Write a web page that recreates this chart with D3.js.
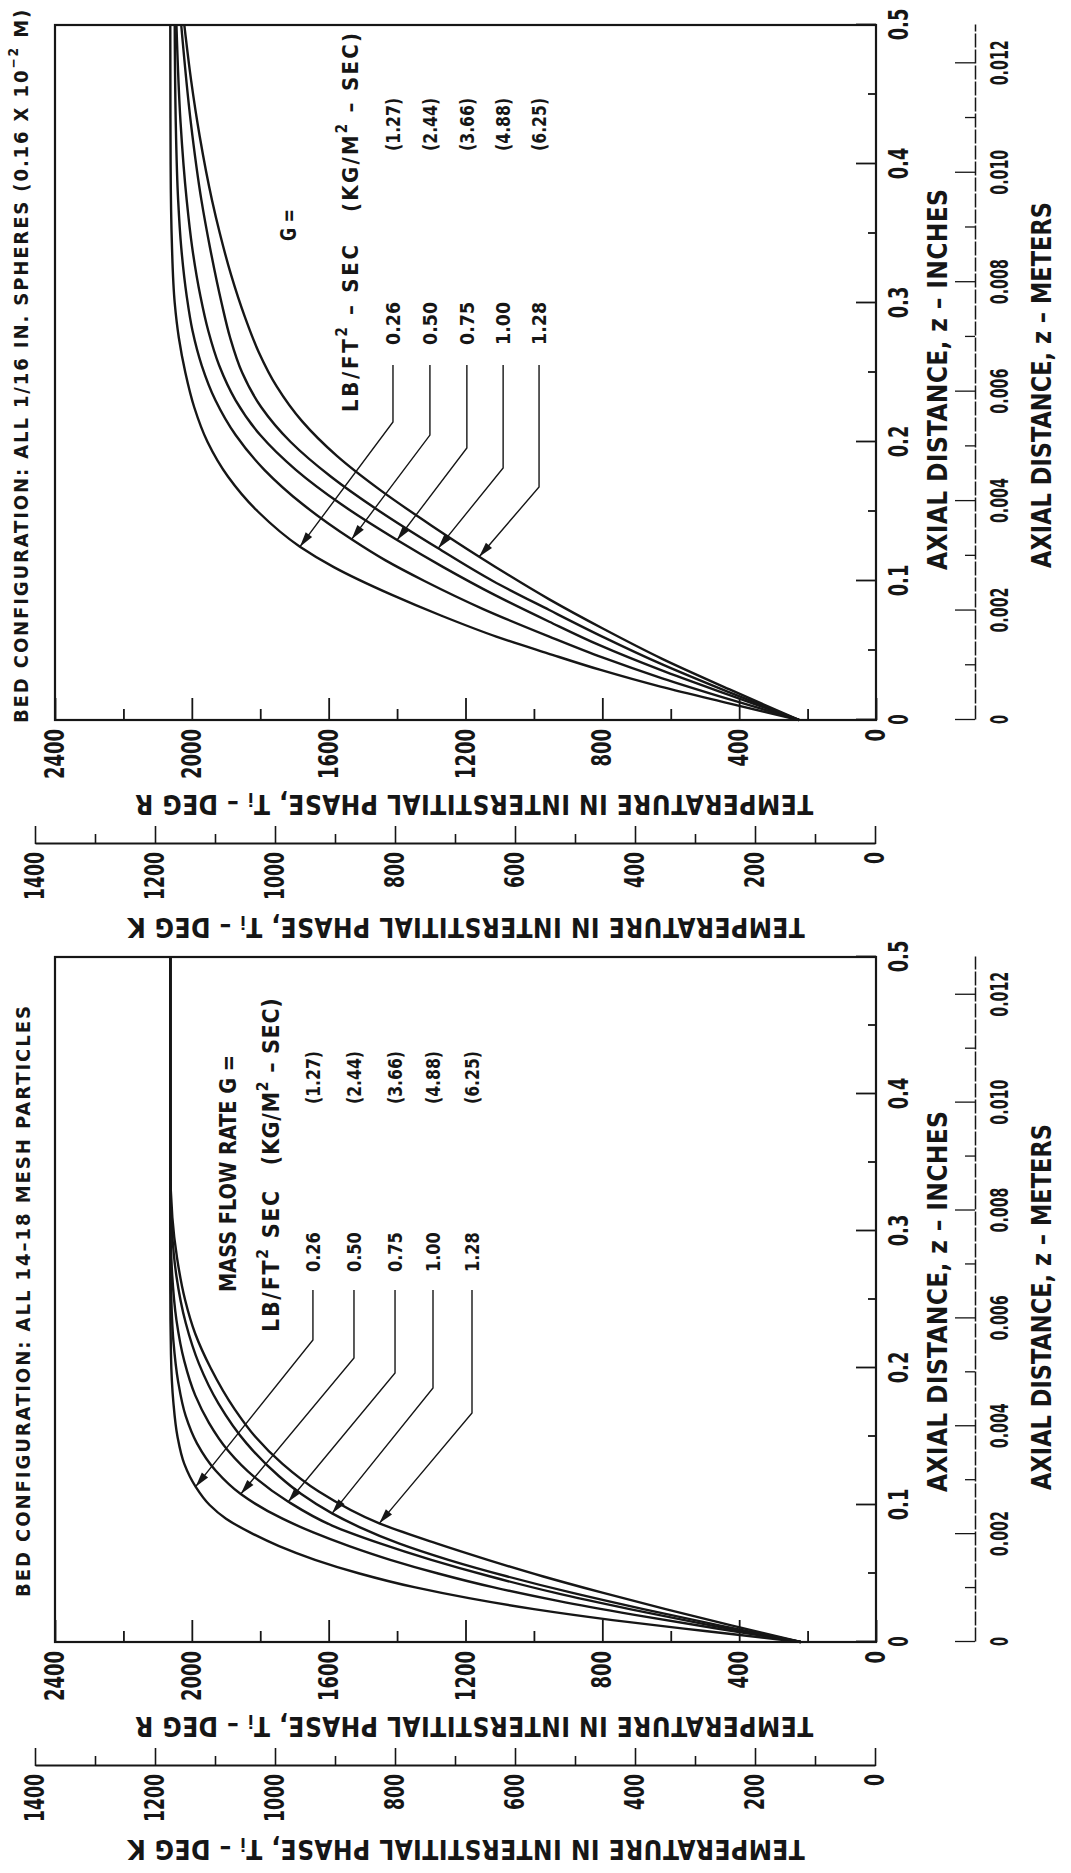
<!DOCTYPE html>
<html>
<head>
<meta charset="utf-8">
<script src="https://cdn.jsdelivr.net/npm/d3@7"></script>
<style>
  html, body { margin: 0; padding: 0; background: #fff; }
  svg { display: block; }
  text { font-family: "Liberation Sans Narrow", "DejaVu Sans Condensed", "Liberation Sans", sans-serif; fill: #161616; font-weight: bold; }
</style>
</head>
<body>
<svg id="fig" width="1071" height="1873"></svg>
<script>
// ---------------------------------------------------------------
// Interstitial gas temperature vs. axial distance in a packed bed.
// Page is laid out in landscape and turned a quarter turn.
// ---------------------------------------------------------------

// Axis ticks
const inchTicks         = [0, 0.1, 0.2, 0.3, 0.4, 0.5];
const inchMinorTicks    = [0.05, 0.15, 0.25, 0.35, 0.45];
const meterTicks        = [0, 0.002, 0.004, 0.006, 0.008, 0.010, 0.012];
const meterMinorTicks   = [0.001, 0.003, 0.005, 0.007, 0.009, 0.011];
const rankineTicks      = [0, 400, 800, 1200, 1600, 2000, 2400];
const rankineMinorTicks = [200, 600, 1000, 1400, 1800, 2200];
const kelvinTicks       = [0, 200, 400, 600, 800, 1000, 1200, 1400];
const kelvinMinorTicks  = [100, 300, 500, 700, 900, 1100, 1300];

// Mass flow rates
const flowLb = ["0.26", "0.50", "0.75", "1.00", "1.28"];
const flowKg = ["(1.27)", "(2.44)", "(3.66)", "(4.88)", "(6.25)"];

// 14-18 mesh particles: [z (in), T (deg R)]
const meshG026 = [[0,220],[0.008,500],[0.016,770],[0.024,1000],[0.032,1190],[0.04,1350],[0.05,1510],[0.06,1640],[0.07,1745],[0.08,1830],[0.09,1900],[0.1,1948],[0.1134,1989],[0.13,2022],[0.15,2042],[0.175,2054],[0.21,2061],[0.26,2063],[0.5,2063]];
const meshG050 = [[0,220],[0.01,470],[0.02,710],[0.03,930],[0.04,1120],[0.05,1280],[0.06,1420],[0.07,1540],[0.08,1645],[0.09,1735],[0.108,1857],[0.125,1930],[0.145,1985],[0.165,2018],[0.19,2040],[0.22,2054],[0.26,2061],[0.3,2063],[0.5,2063]];
const meshG075 = [[0,220],[0.012,480],[0.024,720],[0.036,940],[0.048,1130],[0.06,1300],[0.072,1450],[0.085,1590],[0.1024,1718],[0.12,1815],[0.14,1895],[0.16,1950],[0.18,1990],[0.205,2022],[0.235,2045],[0.27,2058],[0.31,2063],[0.5,2063]];
const meshG100 = [[0,220],[0.012,455],[0.024,680],[0.036,890],[0.048,1080],[0.06,1250],[0.072,1395],[0.0839,1510],[0.0939,1590],[0.108,1680],[0.121,1745],[0.145,1840],[0.174,1922],[0.203,1979],[0.233,2018],[0.267,2045],[0.3,2058],[0.34,2063],[0.5,2063]];
const meshG128 = [[0,220],[0.012,420],[0.024,615],[0.036,800],[0.048,975],[0.06,1135],[0.072,1285],[0.0866,1452],[0.11,1630],[0.13,1735],[0.15,1815],[0.17,1875],[0.2,1945],[0.225,1990],[0.25,2020],[0.28,2043],[0.31,2057],[0.35,2063],[0.5,2063]];

// 1/16 in. spheres: [z (in), T (deg R)]
const sphereG026 = [[0,225],[0.012,430],[0.024,630],[0.036,805],[0.048,960],[0.06,1110],[0.075,1270],[0.09,1415],[0.11,1585],[0.1247,1684],[0.15,1807],[0.175,1894],[0.2,1954],[0.225,1993],[0.25,2019],[0.275,2038],[0.3,2050],[0.34,2058],[0.4,2062],[0.5,2063]];
const sphereG050 = [[0,225],[0.015,430],[0.03,625],[0.045,800],[0.06,955],[0.08,1150],[0.10,1320],[0.115,1435],[0.130,1533],[0.155,1675],[0.18,1788],[0.205,1872],[0.23,1931],[0.255,1971],[0.28,1998],[0.305,2015],[0.34,2031],[0.374,2040],[0.43,2047],[0.5,2050]];
const sphereG075 = [[0,225],[0.018,430],[0.036,630],[0.054,810],[0.0707,955],[0.09,1115],[0.11,1265],[0.1295,1400],[0.155,1562],[0.18,1696],[0.205,1800],[0.23,1872],[0.255,1920],[0.28,1952],[0.305,1975],[0.34,1999],[0.374,2015],[0.43,2033],[0.5,2045]];
const sphereG100 = [[0,225],[0.02,430],[0.04,625],[0.06,800],[0.0791,955],[0.1,1120],[0.1235,1280],[0.15,1450],[0.175,1593],[0.2,1711],[0.225,1797],[0.25,1853],[0.275,1888],[0.3,1913],[0.34,1947],[0.374,1972],[0.43,2003],[0.5,2031]];
const sphereG128 = [[0,225],[0.022,428],[0.044,625],[0.066,800],[0.0868,955],[0.1175,1160],[0.14,1300],[0.165,1447],[0.19,1576],[0.215,1678],[0.24,1752],[0.265,1805],[0.29,1845],[0.32,1885],[0.35,1918],[0.374,1941],[0.42,1977],[0.46,2002],[0.5,2022]];

// ---------------------------------------------------------------
const INK = "#161616";
const PAGE_LONG = 1873;
const svg = d3.select("#fig");
const page = svg.append("g").attr("transform", `translate(0,${PAGE_LONG}) rotate(-90)`);

// temperature scales are shared by both panels (vertical in landscape)
const tR = d3.scaleLinear().domain([0, 2400]).range([876, 55]);
const tK = d3.scaleLinear().domain([0, 1400]).range([875, 35]);

const panels = [
  {
    x0: 231, x1: 916,
    title: [{t: "BED CONFIGURATION:  ALL  14\u201318  MESH PARTICLES"}],
    titleSpan: [276, 873], titleY: 23,
    curves: [meshG026, meshG050, meshG075, meshG100, meshG128],
    head1: {segs: [{t: "MASS FLOW RATE G ="}], z: 0.2555, T: 1894, len: 237, size: 23},
    head2a: {segs: [{t: "LB/FT"}, {t: "2", sup: true}, {t: "  SEC"}], z: 0.2263, T: 1769, len: 143, size: 23},
    head2b: {segs: [{t: "(KG/M"}, {t: "2", sup: true}, {t: " \u2013 SEC)"}], z: 0.348, T: 1769, len: 167, size: 23},
    rowT: [1646, 1526, 1406, 1295, 1181],
    valueZ: 0.270, valueLen: 40, kgZ: 0.3927, kgLen: 53,
    leaderZ: 0.257,
    elbowZ: [0.2204, 0.2073, 0.1964, 0.1854, 0.1672],
    tips: [[0.1134, 1989], [0.108, 1857], [0.1024, 1718], [0.0939, 1590], [0.0866, 1452]]
  },
  {
    x0: 1153, x1: 1848,
    title: [{t: "BED CONFIGURATION:  ALL 1/16 IN.  SPHERES  (0.16 X 10"}, {t: "\u22122", sup: true}, {t: " M)"}],
    titleSpan: [1150, 1869], titleY: 21,
    curves: [sphereG026, sphereG050, sphereG075, sphereG100, sphereG128],
    head1: {segs: [{t: "G ="}], z: 0.3446, T: 1716, len: 32, size: 21},
    head2a: {segs: [{t: "LB/FT"}, {t: "2", sup: true}, {t: " \u2013 SEC"}], z: 0.2216, T: 1538, len: 167, size: 22},
    head2b: {segs: [{t: "(KG/M"}, {t: "2", sup: true}, {t: " \u2013 SEC)"}], z: 0.3655, T: 1538, len: 179, size: 22},
    rowT: [1412, 1304, 1196, 1090, 985],
    valueZ: 0.2698, valueLen: 43, kgZ: 0.4094, kgLen: 53,
    leaderZ: 0.2554,
    elbowZ: [0.2144, 0.2050, 0.1957, 0.1813, 0.1676],
    tips: [[0.1247, 1684], [0.130, 1533], [0.1295, 1400], [0.1235, 1280], [0.1175, 1160]]
  }
];

// write text made of plain / superscript / subscript pieces
function richText(parent, segs, size) {
  const t = parent.append("text").attr("font-size", size);
  segs.forEach(s => {
    const ts = t.append("tspan").text(s.t);
    if (s.sup) ts.attr("font-size", size * 0.68).attr("baseline-shift", "55%");
    if (s.sub) ts.attr("font-size", size * 0.68).attr("baseline-shift", "-30%");
  });
  return t;
}

// make a string cover a given length: spread letters, or squeeze glyphs if too long
function fitLength(sel, len) {
  sel.each(function () {
    const natural = this.getComputedTextLength();
    const n = this.textContent.length;
    if (natural > len && this.childNodes.length <= 1) {
      d3.select(this).attr("textLength", len).attr("lengthAdjust", "spacingAndGlyphs");
    } else if (n > 1) {
      d3.select(this).attr("letter-spacing", ((len - natural) / (n - 1)).toFixed(2));
    }
  });
}

// tick labels drawn in a narrow hand: fixed advance per character
function narrowLabels(sel, perChar) {
  sel.selectAll(".tick text").each(function () {
    const n = this.textContent.length;
    d3.select(this).attr("textLength", n * perChar).attr("lengthAdjust", "spacingAndGlyphs");
  });
}

function styleAxis(sel, fontSize, tickWidth) {
  sel.attr("font-family", null).attr("font-size", null);
  sel.selectAll("text").attr("font-size", fontSize).attr("fill", INK);
  sel.selectAll(".tick line").attr("stroke", INK).attr("stroke-width", tickWidth);
}

const fmtInch = d => d === 0 ? "0" : d3.format(".1f")(d);
const fmtMeter = d => d === 0 ? "0" : d3.format(".3f")(d);

function drawPanel(p) {
  const g = page.append("g");
  const z = d3.scaleLinear().domain([0, 0.5]).range([p.x0, p.x1]);
  const zm = d3.scaleLinear().domain([0, 0.5 * 0.0254]).range([p.x0, p.x1]);

  // inch axis (bottom of the frame), ticks pointing inward
  const ax = g.append("g").attr("transform", `translate(0,${tR(0)})`);
  ax.call(d3.axisBottom(z).tickValues(inchTicks).tickSize(-20).tickSizeOuter(0).tickPadding(14).tickFormat(fmtInch));
  ax.append("g").call(d3.axisBottom(z).tickValues(inchMinorTicks).tickSize(-8).tickFormat(""));
  ax.selectAll(".domain").remove();
  styleAxis(ax, 26, 1.8);
  narrowLabels(ax, 10.5);

  // meter axis below it
  const am = g.append("g").attr("transform", `translate(0,975)`);
  am.call(d3.axisBottom(zm).tickValues(meterTicks).tickSize(-20).tickSizeOuter(0).tickPadding(16).tickFormat(fmtMeter));
  am.append("g").call(d3.axisBottom(zm).tickValues(meterMinorTicks).tickSize(-10).tickFormat(""))
    .selectAll(".domain").remove();
  styleAxis(am, 24, 1.3);
  narrowLabels(am, 9);
  am.select(".domain").attr("stroke", INK).attr("stroke-width", 1.5).attr("stroke-dasharray", "14 2");

  // Rankine axis (left of the frame)
  const ar = g.append("g").attr("transform", `translate(${z(0)},0)`);
  ar.call(d3.axisLeft(tR).tickValues(rankineTicks).tickSize(-22).tickSizeOuter(0).tickPadding(9).tickFormat(d3.format("d")));
  ar.append("g").call(d3.axisLeft(tR).tickValues(rankineMinorTicks).tickSize(-11).tickFormat(""));
  ar.selectAll(".domain").remove();
  styleAxis(ar, 27, 1.8);
  narrowLabels(ar, 12.5);

  // Kelvin axis further left
  const ak = g.append("g").attr("transform", `translate(${z(0) - 124},0)`);
  ak.call(d3.axisLeft(tK).tickValues(kelvinTicks).tickSize(-18).tickSizeOuter(0).tickPadding(8).tickFormat(d3.format("d")));
  ak.append("g").call(d3.axisLeft(tK).tickValues(kelvinMinorTicks).tickSize(-10).tickFormat(""))
    .selectAll(".domain").remove();
  styleAxis(ak, 27, 1.6);
  narrowLabels(ak, 12);
  ak.select(".domain").attr("stroke", INK).attr("stroke-width", 1.8);

  // frame
  g.append("rect")
    .attr("x", z(0)).attr("y", tR(2400))
    .attr("width", z(0.5) - z(0)).attr("height", tR(0) - tR(2400))
    .attr("fill", "none").attr("stroke", INK).attr("stroke-width", 2.2);

  // curves
  const line = d3.line().x(d => z(d[0])).y(d => tR(d[1])).curve(d3.curveMonotoneX);
  g.append("g").selectAll("path").data(p.curves).join("path")
    .attr("d", line).attr("fill", "none").attr("stroke", INK)
    .attr("stroke-width", 2.4).attr("stroke-linejoin", "round");

  // axis titles
  const rTitle = richText(g, [{t: "TEMPERATURE IN INTERSTITIAL PHASE, T"}, {t: "i", sub: true}, {t: " \u2013 DEG R"}], 26)
    .attr("transform", `translate(${p.x0 - 84},474) rotate(-90)`)
    .attr("text-anchor", "middle").attr("dominant-baseline", "central");
  fitLength(rTitle, 678);
  const kTitle = richText(g, [{t: "TEMPERATURE IN INTERSTITIAL PHASE, T"}, {t: "i", sub: true}, {t: " \u2013 DEG K"}], 26)
    .attr("transform", `translate(${p.x0 - 207},466) rotate(-90)`)
    .attr("text-anchor", "middle").attr("dominant-baseline", "central");
  fitLength(kTitle, 677);

  const iTitle = richText(g, [{t: "AXIAL DISTANCE,  z  \u2013  INCHES"}], 26)
    .attr("x", p.x0 + 150).attr("y", 938).attr("dominant-baseline", "central");
  fitLength(iTitle, 382);
  const mTitle = richText(g, [{t: "AXIAL DISTANCE,  z  \u2013  METERS"}], 26)
    .attr("x", p.x0 + 152).attr("y", 1042).attr("dominant-baseline", "central");
  fitLength(mTitle, 366);

  // panel title
  const title = richText(g, p.title, 20)
    .attr("x", p.titleSpan[0]).attr("y", p.titleY).attr("dominant-baseline", "central");
  fitLength(title, p.titleSpan[1] - p.titleSpan[0]);

  // legend block
  const lg = g.append("g");
  [p.head1, p.head2a, p.head2b].forEach(h => {
    const t = richText(lg, h.segs, h.size).attr("x", z(h.z)).attr("y", tR(h.T)).attr("dominant-baseline", "central");
    fitLength(t, h.len);
  });

  flowLb.forEach((v, i) => {
    const y = tR(p.rowT[i]);
    const tv = richText(lg, [{t: v}], 20).attr("x", z(p.valueZ)).attr("y", y).attr("dominant-baseline", "central");
    fitLength(tv, p.valueLen);
    const tk = richText(lg, [{t: flowKg[i]}], 19).attr("x", z(p.kgZ)).attr("y", y).attr("dominant-baseline", "central");
    fitLength(tk, p.kgLen);

    // leader: short run, then slant to the curve, ending in an arrowhead
    const tip = [z(p.tips[i][0]), tR(p.tips[i][1])];
    const elbow = [z(p.elbowZ[i]), y];
    lg.append("path")
      .attr("d", d3.line()([[z(p.leaderZ), y], elbow, tip]))
      .attr("fill", "none").attr("stroke", INK).attr("stroke-width", 1.4);
    const dx = tip[0] - elbow[0], dy = tip[1] - elbow[1];
    const L = Math.hypot(dx, dy), ux = dx / L, uy = dy / L;
    const hl = 15, hw = 4;
    const bx = tip[0] - ux * hl, by = tip[1] - uy * hl;
    lg.append("path")
      .attr("d", d3.line()([tip, [bx - uy * hw, by + ux * hw], [bx + uy * hw, by - ux * hw]]) + "Z")
      .attr("fill", INK);
  });
}

panels.forEach(drawPanel);
</script>
</body>
</html>
